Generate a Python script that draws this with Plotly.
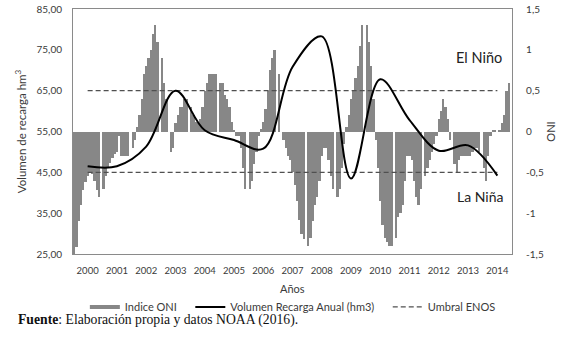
import plotly.graph_objects as go

# ---------------- data ----------------
years = [2000, 2001, 2002, 2003, 2004, 2005, 2006, 2007, 2008, 2009, 2010, 2011, 2012, 2013, 2014]
year_labels = [str(y) for y in years]

# Monthly ONI index, one list per year (Jan..Dec)
oni_2000 = [-1.5, -1.42, -1.1, -0.9, -0.72, -0.62, -0.55, -0.5, -0.52, -0.6, -0.72, -0.8]
oni_2001 = [-0.7, -0.55, -0.45, -0.38, -0.32, -0.28, -0.25, -0.05, -0.3, -0.3, -0.3, -0.3]
oni_2002 = [-0.2, -0.1, 0.05, 0.2, 0.4, 0.7, 0.8, 0.9, 1.0, 1.2, 1.3, 1.1]
oni_2003 = [0.9, 0.6, 0.4, 0.0, -0.25, -0.2, 0.1, 0.2, 0.3, 0.3, 0.4, 0.4]
oni_2004 = [0.3, 0.2, 0.12, 0.1, 0.15, 0.3, 0.5, 0.6, 0.7, 0.7, 0.7, 0.7]
oni_2005 = [0.6, 0.6, 0.45, 0.4, 0.3, 0.12, 0.02, -0.05, -0.05, -0.2, -0.45, -0.7]
oni_2006 = [-0.7, -0.6, -0.4, -0.25, -0.05, 0.03, 0.12, 0.28, 0.5, 0.75, 0.9, 1.0]
oni_2007 = [0.7, 0.0, -0.1, -0.2, -0.3, -0.35, -0.5, -0.65, -0.85, -1.08, -1.25, -1.32]
oni_2008 = [-1.4, -1.3, -1.1, -0.9, -0.8, -0.6, -0.3, -0.2, -0.2, -0.35, -0.55, -0.7]
oni_2009 = [-0.8, -0.7, -0.45, -0.15, 0.05, 0.2, 0.4, 0.5, 0.65, 0.8, 1.05, 1.3]
oni_2010 = [1.3, 1.1, 0.8, 0.4, -0.1, -0.45, -0.85, -1.15, -1.3, -1.35, -1.4, -1.4]
oni_2011 = [-1.3, -1.05, -1.0, -0.9, -0.6, -0.3, -0.3, -0.35, -0.6, -0.8, -0.9, -0.7]
oni_2012 = [-0.55, -0.45, -0.35, -0.25, -0.15, -0.05, 0.15, 0.25, 0.4, 0.3, 0.15, -0.1]
oni_2013 = [-0.4, -0.5, -0.35, -0.3, -0.3, -0.3, -0.3, -0.3, -0.25, -0.2, -0.2, -0.25]
oni_2014 = [-0.45, -0.6, -0.3, -0.05, 0.02, 0.02, 0.0, 0.02, 0.1, 0.2, 0.5, 0.6]

oni_by_year = [oni_2000, oni_2001, oni_2002, oni_2003, oni_2004, oni_2005, oni_2006,
               oni_2007, oni_2008, oni_2009, oni_2010, oni_2011, oni_2012, oni_2013, oni_2014]

# Annual recharge volume (hm3)
volumen = [46.5, 46.5, 51.3, 65.0, 55.3, 52.9, 50.8, 70.8, 78.3, 43.5, 67.8, 57.8, 50.3, 51.6, 44.2]

# ENSO thresholds (ONI)
umbral_nino = [0.5] * len(years)
umbral_nina = [-0.5] * len(years)

vol_ticks = [25, 35, 45, 55, 65, 75, 85]
vol_ticktext = ["25,00", "35,00", "45,00", "55,00", "65,00", "75,00", "85,00"]
oni_ticks = [-1.5, -1, -0.5, 0, 0.5, 1, 1.5]
oni_ticktext = ["-1,5", "-1", "-0,5", "0", "0,5", "1", "1,5"]

# ---------------- category axis: 12 months + one empty slot per year ----------------
SLOTS = 13
bar_x, bar_y = [], []
for i, vals in enumerate(oni_by_year):
    for j, v in enumerate(vals):
        bar_x.append(i * SLOTS + j + 0.5)
        bar_y.append(v)
year_x = [i * SLOTS + 6.5 for i in range(len(years))]

BAR_COLOR = "#878787"
FONT = "Lato"
TXT = "#3a3a3a"
NB = "\u00a0"

fig = go.Figure()

fig.add_trace(go.Bar(x=bar_x, y=bar_y, width=1.0, marker=dict(color=BAR_COLOR, line=dict(width=0)),
                     name="Indice ONI", showlegend=False, legendgroup="oni", yaxis="y"))
fig.add_trace(go.Scatter(x=[None], y=[None], mode="lines", line=dict(color=BAR_COLOR, width=4),
                         name="Indice ONI" + NB * 3, legendgroup="oni",
                         legendrank=1, yaxis="y"))
fig.add_trace(go.Scatter(x=year_x, y=umbral_nino, mode="lines",
                         line=dict(color="#505050", width=1.3, dash="5px,3px"),
                         name="Umbral ENOS", legendgroup="umb", legendrank=3, yaxis="y"))
fig.add_trace(go.Scatter(x=year_x, y=umbral_nina, mode="lines",
                         line=dict(color="#505050", width=1.3, dash="5px,3px"),
                         name="Umbral ENOS", legendgroup="umb", showlegend=False, yaxis="y"))
fig.add_trace(go.Scatter(x=year_x, y=volumen, mode="lines",
                         line=dict(color="#000000", width=2, shape="spline", smoothing=1.0),
                         name="Volumen Recarga Anual (hm3)" + NB * 3,
                         legendrank=2, yaxis="y2"))

fig.update_layout(
    width=561, height=350,
    margin=dict(l=73, r=49, t=9, b=96, autoexpand=False),
    paper_bgcolor="white", plot_bgcolor="white",
    font=dict(family=FONT, color=TXT, size=10),
    bargap=0,
    showlegend=True,
    legend=dict(orientation="h", x=0.027, xanchor="left", y=-0.216, yanchor="middle",
                font=dict(size=11, family=FONT, color=TXT), itemwidth=30,
                bgcolor="rgba(0,0,0,0)"),
    xaxis=dict(range=[0, SLOTS * len(years)], tickvals=year_x, ticktext=year_labels,
               showgrid=False, zeroline=False, showline=True, mirror=True, automargin=False,
               linecolor="#8a8a8a", linewidth=1.2, ticks="",
               tickfont=dict(size=9.5, family=FONT, color=TXT), ticklabelstandoff=7),
    yaxis=dict(range=[-1.5, 1.5], side="right", tickvals=oni_ticks, ticktext=oni_ticktext,
               showgrid=False, zeroline=False, showline=True, mirror=True, automargin=False,
               linecolor="#8a8a8a", linewidth=1.2, ticks="",
               tickfont=dict(size=10, family=FONT, color=TXT), ticklabelstandoff=11,
               title=dict(text="ONI", font=dict(size=11, family=FONT, color=TXT), standoff=4)),
    yaxis2=dict(range=[25, 85], side="left", overlaying="y", tickvals=vol_ticks,
                ticktext=vol_ticktext, showgrid=False, zeroline=False, showline=False,
                automargin=False, ticks="",
                tickfont=dict(size=10, family=FONT, color=TXT), ticklabelstandoff=10,
                title=dict(text="Volumen de recarga hm<sup>3</sup>",
                           font=dict(size=11.5, family=FONT, color=TXT), standoff=7)),
    annotations=[
        dict(text="Años", x=0.5, y=(254 - 288) / 245, xref="paper", yref="paper",
             xanchor="center", yanchor="middle", showarrow=False,
             font=dict(size=11, family=FONT, color=TXT)),
        dict(text="El Niño", x=0.982, y=0.91, xref="paper", yref="y", xanchor="right",
             yanchor="middle", showarrow=False, font=dict(size=14.5, family=FONT, color="#222")),
        dict(text="La Niña", x=0.984, y=-0.80, xref="paper", yref="y", xanchor="right",
             yanchor="middle", showarrow=False, font=dict(size=14, family=FONT, color="#222")),
        dict(text="<b>Fuente</b>: Elaboración propia y datos NOAA (2016).",
             x=(16 - 73) / 439, y=(254 - 320) / 245, xref="paper", yref="paper",
             xanchor="left", yanchor="middle", showarrow=False,
             font=dict(size=13.7, family="Liberation Serif", color="#111")),
    ],
)

fig.write_html("out.html", config={"displayModeBar": False},
               post_script="document.body.style.margin='0';")
